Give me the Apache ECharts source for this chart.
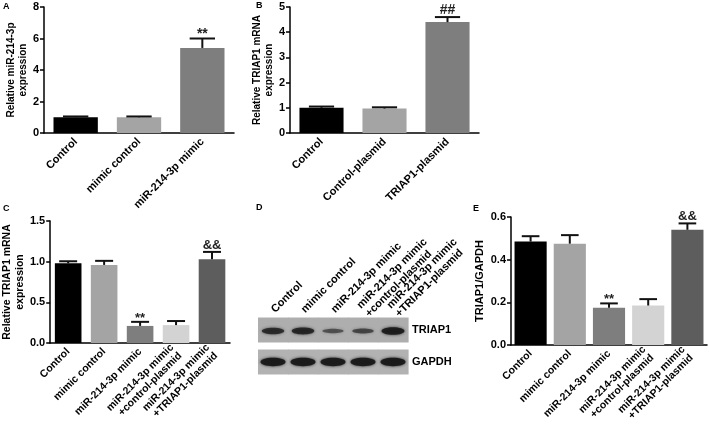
<!DOCTYPE html>
<html><head><meta charset="utf-8">
<script src="https://cdn.jsdelivr.net/npm/echarts@6/dist/echarts.min.js"></script>
<style>html,body{margin:0;padding:0;background:#fff}#c{width:709px;height:430px}</style>
</head><body><div id="c"></div>
<script>
// ---- data ----
const catsA = ['Control', 'mimic control', 'miR-214-3p mimic'];
const valsA = [1.0, 1.0, 5.4];
const errsA = [0.05, 0.05, 0.6];
const sigA = ['', '', '**'];

const catsB = ['Control', 'Control-plasmid', 'TRIAP1-plasmid'];
const valsB = [1.0, 0.97, 4.4];
const errsB = [0.05, 0.05, 0.2];
const sigB = ['', '', '##'];

const catsC = ['Control', 'mimic control', 'miR-214-3p mimic', 'miR-214-3p mimic\n+control-plasmid', 'miR-214-3p mimic\n+TRIAP1-plasmid'];
const valsC = [0.98, 0.96, 0.21, 0.22, 1.03];
const errsC = [0.025, 0.05, 0.05, 0.05, 0.09];
const sigC = ['', '', '**', '', '&&'];

const catsE = catsC;
const valsE = [0.485, 0.475, 0.175, 0.185, 0.54];
const errsE = [0.025, 0.04, 0.02, 0.03, 0.03];
const sigE = ['', '', '**', '', '&&'];

const lanesD = catsC;
const rowsD = ['GAPDH', 'TRIAP1'];
const bandTRIAP1 = [0.8, 0.85, 0.4, 0.5, 1.0];
const bandGAPDH = [1, 1, 1, 1, 1];

const ticksA = [0, 8, 2];
const ticksB = [0, 5, 1];
const ticksC = [0, 1.5, 0.5];
const ticksE = [0, 0.6, 0.2];

// ---- styles ----
const FONT = 'Liberation Sans, Arial, sans-serif';
const col3 = ['#000000', '#a4a4a4', '#7e7e7e'];
const col5 = ['#000000', '#a4a4a4', '#7e7e7e', '#d3d3d3', '#5d5d5d'];

const chart = echarts.init(document.getElementById('c'));

function xAx(gi, cats, fs) {
  return {
    type: 'category', gridIndex: gi, data: cats,
    axisLine: {lineStyle: {color: '#000', width: 1.5}},
    axisTick: {alignWithLabel: true, length: 4, lineStyle: {color: '#000', width: 1.5}},
    axisLabel: {interval: 0, rotate: 45, margin: 7, color: '#000', fontWeight: 'bold', fontSize: fs, fontFamily: FONT, lineHeight: fs + 1}
  };
}
function yAx(gi, t, name, gap, nfs, fmt) {
  return {
    type: 'value', gridIndex: gi, min: t[0], max: t[1], interval: t[2],
    name: name, nameLocation: 'middle', nameGap: gap, nameRotate: 90,
    nameTextStyle: {color: '#000', fontWeight: 'bold', fontSize: nfs, fontFamily: FONT, lineHeight: nfs + 2},
    axisLine: {show: true, lineStyle: {color: '#000', width: 1.5}},
    axisTick: {show: true, length: 4, lineStyle: {color: '#000', width: 1.5}},
    splitLine: {show: false},
    axisLabel: {color: '#000', fontWeight: 'bold', fontSize: 11, fontFamily: FONT, margin: 5,
      formatter: fmt}
  };
}
function barS(i, vals, cols, bw) {
  return {
    type: 'bar', xAxisIndex: i, yAxisIndex: i, barWidth: bw,
    data: vals.map((v, k) => ({value: v, itemStyle: {color: cols[k]}})),
    z: 2
  };
}
function errS(i, vals, errs, sig, capFrac, sfs) {
  return {
    type: 'custom', xAxisIndex: i, yAxisIndex: i, z: 3,
    data: vals.map((v, k) => [k, v, v + errs[k]]),
    renderItem(params, api) {
      const k = api.value(0);
      const p0 = api.coord([k, api.value(1)]);
      const p1 = api.coord([k, api.value(2)]);
      const w = api.size([1, 0])[0] * capFrac / 2;
      const ch = [
        {type: 'line', shape: {x1: p0[0], y1: p0[1], x2: p1[0], y2: p1[1]}, style: {stroke: '#111', lineWidth: 2}},
        {type: 'line', shape: {x1: p1[0] - w, y1: p1[1], x2: p1[0] + w, y2: p1[1]}, style: {stroke: '#111', lineWidth: 2}}
      ];
      if (sig[k]) {
        const off = sig[k].indexOf('*') >= 0 ? 3 : 0;
        ch.push({type: 'text', x: p1[0], y: p1[1] + off,
          style: {text: sig[k], fill: '#222', font: 'bold ' + sfs + 'px ' + FONT, align: 'center', verticalAlign: 'bottom'}});
      }
      return {type: 'group', children: ch};
    }
  };
}

const blotData = [];
bandTRIAP1.forEach((v, k) => blotData.push([k, 1, v]));
bandGAPDH.forEach((v, k) => blotData.push([k, 0, v]));

const fmt1 = v => v.toFixed(1);

const option = {
  animation: false,
  backgroundColor: '#fff',
  grid: [
    {left: 44, top: 7, width: 190, height: 126},
    {left: 290, top: 7, width: 189, height: 126},
    {left: 47, top: 221, width: 183, height: 122},
    {left: 511, top: 217, width: 196, height: 128},
    {left: 258, top: 314, width: 150, height: 64}
  ],
  xAxis: [
    xAx(0, catsA, 11), xAx(1, catsB, 11), xAx(2, catsC, 10.5), xAx(3, catsE, 10.5),
    {type: 'category', gridIndex: 4, data: lanesD, position: 'top',
      axisLine: {show: false}, axisTick: {show: false},
      axisLabel: {interval: 0, rotate: -45, align: 'left', margin: 3, color: '#000', fontWeight: 'bold', fontSize: 11, fontFamily: FONT, lineHeight: 12}}
  ],
  yAxis: [
    yAx(0, ticksA, 'Relative miR-214-3p\nexpression', 12, 10),
    yAx(1, ticksB, 'Relative TRIAP1 mRNA\nexpression', 12, 10),
    yAx(2, ticksC, 'Relative TRIAP1 mRNA\nexpression', 20, 10.5, fmt1),
    yAx(3, ticksE, 'TRIAP1/GAPDH', 14, 11, fmt1),
    {type: 'category', gridIndex: 4, data: rowsD, position: 'right',
      axisLine: {show: false}, axisTick: {show: false}, splitLine: {show: false},
      axisLabel: {margin: 4, color: '#000', fontWeight: 'bold', fontSize: 11, fontFamily: FONT}}
  ],
  series: [
    barS(0, valsA, col3, '70%'), errS(0, valsA, errsA, sigA, 0.4, 14),
    barS(1, valsB, col3, '70%'), errS(1, valsB, errsB, sigB, 0.4, 14),
    barS(2, valsC, col5, '74%'), errS(2, valsC, errsC, sigC, 0.5, 13),
    barS(3, valsE, col5, '82%'), errS(3, valsE, errsE, sigE, 0.45, 13),
    {
      type: 'custom', xAxisIndex: 4, yAxisIndex: 4, data: blotData,
      renderItem(params, api) {
        const k = api.value(0), r = api.value(1), v = api.value(2);
        const c = api.coord([k, r]);
        const sz = api.size([1, 1]);
        const h = 25;
        const isG = r === 0;
        const rx = isG ? 12.5 : 10 + v * 1.5;
        const ry = isG ? 4.2 : 1.2 + v * 2.6;
        const a = isG ? 0.95 : 0.3 + v * 0.6;
        return {type: 'group', children: [
          {type: 'rect', shape: {x: c[0] - sz[0] / 2, y: c[1] - h / 2, width: sz[0] + 0.6, height: h},
            style: {fill: isG ? '#b2b2b2' : '#aeaeae'}},
          {type: 'ellipse', shape: {cx: c[0], cy: c[1] + (isG ? 0 : 1), rx: rx, ry: ry},
            style: {fill: 'rgba(25,25,25,' + a + ')', shadowBlur: 3, shadowColor: 'rgba(25,25,25,' + a + ')'}}
        ]};
      }
    }
  ],
  graphic: [
    {type: 'text', left: 3, top: 2, style: {text: 'A', font: 'bold 9px ' + FONT, fill: '#000'}},
    {type: 'text', left: 256, top: 1, style: {text: 'B', font: 'bold 9px ' + FONT, fill: '#000'}},
    {type: 'text', left: 3, top: 204, style: {text: 'C', font: 'bold 9px ' + FONT, fill: '#000'}},
    {type: 'text', left: 256, top: 203, style: {text: 'D', font: 'bold 9px ' + FONT, fill: '#000'}},
    {type: 'text', left: 473, top: 204, style: {text: 'E', font: 'bold 9px ' + FONT, fill: '#000'}}
  ]
};
chart.setOption(option);
</script>
</body></html>
